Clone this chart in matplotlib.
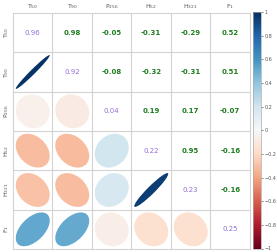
import numpy as np
import matplotlib
matplotlib.use('Agg')
import matplotlib.pyplot as plt
from matplotlib.patches import Ellipse
from matplotlib.cm import ScalarMappable
from matplotlib.colors import Normalize

labels = [r'T$_{50}$', r'T$_{90}$', r'P$_{256}$', r'H$_{52}$', r'H$_{321}$', r'F$_{1}$']

# correlation matrix (symmetric)
corr = np.array([
    [1.00, 0.98, -0.05, -0.31, -0.29, 0.52],
    [0.98, 1.00, -0.08, -0.32, -0.31, 0.51],
    [-0.05, -0.08, 1.00, 0.19, 0.17, -0.07],
    [-0.31, -0.32, 0.19, 1.00, 0.95, -0.16],
    [-0.29, -0.31, 0.17, 0.95, 1.00, -0.16],
    [0.52, 0.51, -0.07, -0.16, -0.16, 1.00],
])
# values shown on the diagonal
diag_vals = [0.96, 0.92, 0.04, 0.22, 0.23, 0.25]

n = len(labels)
W, H = 277, 252
fig = plt.figure(figsize=(W / 100, H / 100), dpi=100)
ax = fig.add_axes([13 / W, 3 / H, 237 / W, 236 / H])
ax.set_xlim(0, n)
ax.set_ylim(n, 0)
ax.axis('off')

cmap = plt.get_cmap('RdBu')
norm = Normalize(-1, 1)
s = 0.43

for i in range(n):
    for j in range(n):
        cx, cy = j + 0.5, i + 0.5
        if i == j:
            ax.text(cx, cy, '%.2f' % diag_vals[i], ha='center', va='center',
                    fontsize=5, color='#9370db')
        elif j > i:
            ax.text(cx, cy, '%.2f' % corr[i, j], ha='center', va='center',
                    fontsize=5, color='#1e7d1e', fontweight='bold')
        else:
            r = corr[i, j]
            e = Ellipse((cx, cy), width=2 * s * np.sqrt(1 + r),
                        height=2 * s * np.sqrt(1 - r), angle=-45,
                        facecolor=cmap(norm(r)), edgecolor='none')
            ax.add_patch(e)

for k in range(n + 1):
    ax.plot([k, k], [0, n], color='#d3d3d3', lw=0.8, clip_on=False)
    ax.plot([0, n], [k, k], color='#d3d3d3', lw=0.8, clip_on=False)

for k in range(n):
    ax.text(k + 0.5, -0.06, labels[k], ha='center', va='bottom',
            fontsize=4.5, color='#555555')
    ax.text(-0.06, k + 0.5, labels[k], ha='right', va='center',
            fontsize=4.5, color='#555555', rotation=90)

cax = fig.add_axes([253 / W, 3.5 / H, 8 / W, 236.5 / H])
cb = fig.colorbar(ScalarMappable(norm=norm, cmap=cmap), cax=cax)
cb.set_ticks(np.arange(-1, 1.01, 0.2))
cb.set_ticklabels(['\u22121', '\u22120.8', '\u22120.6', '\u22120.4', '\u22120.2', '0',
                   '0.2', '0.4', '0.6', '0.8', '1'])
cb.ax.tick_params(labelsize=3.5, length=1.5, width=0.5, colors='#555555', pad=1)
cb.outline.set_edgecolor('#aaaaaa')
cb.outline.set_linewidth(0.5)

fig.savefig('out.png', dpi=100)
